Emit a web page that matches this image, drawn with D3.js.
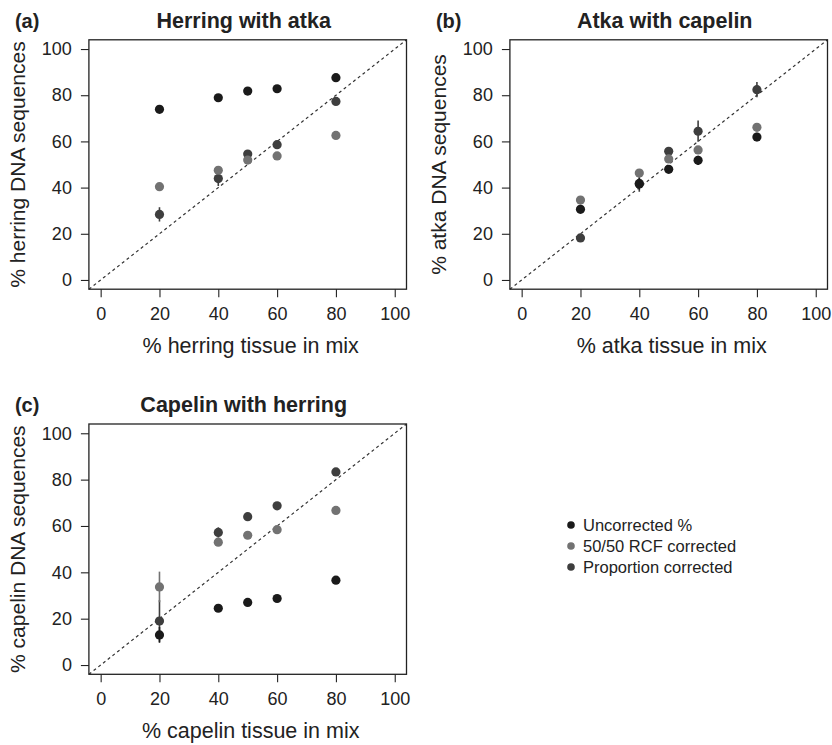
<!DOCTYPE html>
<html>
<head>
<meta charset="utf-8">
<script src="https://cdn.jsdelivr.net/npm/d3@7"></script>
<style>
  body { margin: 0; background: #fff; }
  svg { font-family: "Liberation Sans", Arial, Helvetica, sans-serif; }
</style>
</head>
<body>
<div id="chart"></div>
<script>
// mix levels (% tissue of the focal species)
var mixPercent = [20, 40, 50, 60, 80];
var tickValues = [0, 20, 40, 60, 80, 100];
var seriesNames = ["Uncorrected %", "50/50 RCF corrected", "Proportion corrected"];
var seriesColors = ["#1a1a1a", "#727272", "#3e3e3e"];

// (a) Herring with atka
var herringUncorrected = [73.9, 78.9, 81.8, 82.8, 87.6];
var herringRcf = [40.4, 47.5, 51.9, 53.7, 62.6];
var herringProportion = [28.4, 43.9, 54.5, 58.6, 77.3];
var herringUncorrectedErr = [0.6, 0.6, 0.6, 0.6, 0.6];
var herringRcfErr = [0.6, 0.8, 0.6, 0.6, 0.6];
var herringProportionErr = [3.1, 3.2, 1.0, 1.0, 1.0];

// (b) Atka with capelin
var atkaUncorrected = [30.6, 41.6, 47.9, 51.8, 61.9];
var atkaRcf = [34.6, 46.3, 52.4, 56.3, 66.1];
var atkaProportion = [18.2, 41.8, 55.7, 64.4, 82.4];
var atkaUncorrectedErr = [0.8, 2.5, 1.0, 2.0, 1.8];
var atkaRcfErr = [0.6, 1.2, 0.6, 1.5, 1.5];
var atkaProportionErr = [0.8, 3.6, 0.8, 4.6, 3.3];

// (c) Capelin with herring
var capelinUncorrected = [13.0, 24.5, 27.0, 28.7, 36.6];
var capelinRcf = [33.7, 53.0, 56.0, 58.4, 66.7];
var capelinProportion = [19.0, 57.2, 64.0, 68.7, 83.3];
var capelinUncorrectedErr = [3.4, 0.6, 0.6, 0.6, 0.6];
var capelinRcfErr = [6.6, 0.6, 0.6, 0.6, 0.6];
var capelinProportionErr = [9.0, 2.2, 0.6, 0.6, 0.6];

var panels = [
    {
        tag: "(a)", title: "Herring with atka",
        xlab: "% herring tissue in mix", ylab: "% herring DNA sequences",
        left: 88.9, right: 406.5, top: 39.8, bottom: 289.2,
        values: [herringUncorrected, herringRcf, herringProportion],
        errors: [herringUncorrectedErr, herringRcfErr, herringProportionErr]
    },
    {
        tag: "(b)", title: "Atka with capelin",
        xlab: "% atka tissue in mix", ylab: "% atka DNA sequences",
        left: 509.9, right: 827.5, top: 39.8, bottom: 289.2,
        values: [atkaUncorrected, atkaRcf, atkaProportion],
        errors: [atkaUncorrectedErr, atkaRcfErr, atkaProportionErr]
    },
    {
        tag: "(c)", title: "Capelin with herring",
        xlab: "% capelin tissue in mix", ylab: "% capelin DNA sequences",
        left: 88.9, right: 406.5, top: 424.0, bottom: 674.3,
        values: [capelinUncorrected, capelinRcf, capelinProportion],
        errors: [capelinUncorrectedErr, capelinRcfErr, capelinProportionErr]
    }
];

var full_width = 832, full_height = 745;
var domain = [-4, 104];

var svg = d3.select("#chart").append("svg")
    .attr("width", full_width)
    .attr("height", full_height);

panels.forEach(function(p) {
    var x = d3.scaleLinear().domain(domain).range([p.left, p.right]);
    var y = d3.scaleLinear().domain(domain).range([p.bottom, p.top]);
    var g = svg.append("g");

    // X axis
    var xAxis = g.append("g")
        .attr("transform", "translate(0," + p.bottom + ")")
        .call(d3.axisBottom(x).tickValues(tickValues).tickSize(8).tickSizeOuter(0).tickPadding(10));
    // Y axis
    var yAxis = g.append("g")
        .attr("transform", "translate(" + p.left + ",0)")
        .call(d3.axisLeft(y).tickValues(tickValues).tickSize(8).tickSizeOuter(0).tickPadding(9));

    [xAxis, yAxis].forEach(function(a) {
        a.select(".domain").remove();
        a.selectAll("line").attr("stroke", "#222").attr("stroke-width", 1.1);
        a.selectAll("text")
            .attr("fill", "#222")
            .style("font-size", "18px")
            .style("font-family", "'Liberation Sans', Arial, sans-serif");
    });

    // 1:1 line
    g.append("line")
        .attr("x1", x(domain[0])).attr("y1", y(domain[0]))
        .attr("x2", x(domain[1])).attr("y2", y(domain[1]))
        .attr("stroke", "#333")
        .attr("stroke-width", 1.2)
        .attr("stroke-dasharray", "3,3");

    // series, drawn proportion first so uncorrected ends on top
    d3.range(p.values.length).reverse().forEach(function(s) {
        var vals = p.values[s], errs = p.errors[s];
        g.selectAll(".err" + s)
            .data(mixPercent)
            .enter().append("line")
            .attr("x1", function(d) { return x(d); })
            .attr("x2", function(d) { return x(d); })
            .attr("y1", function(d, i) { return y(vals[i] - errs[i]); })
            .attr("y2", function(d, i) { return y(vals[i] + errs[i]); })
            .attr("stroke", seriesColors[s])
            .attr("stroke-width", 1.6);
        g.selectAll(".pt" + s)
            .data(mixPercent)
            .enter().append("circle")
            .attr("cx", function(d) { return x(d); })
            .attr("cy", function(d, i) { return y(vals[i]); })
            .attr("r", 4.6)
            .attr("fill", seriesColors[s]);
    });

    // box
    g.append("rect")
        .attr("x", p.left).attr("y", p.top)
        .attr("width", p.right - p.left)
        .attr("height", p.bottom - p.top)
        .attr("fill", "none")
        .attr("stroke", "#222")
        .attr("stroke-width", 1.3);

    // titles
    var cx = (x(0) + x(100)) / 2;
    g.append("text")
        .attr("x", cx - 4)
        .attr("y", p.top - 12)
        .attr("text-anchor", "middle")
        .style("font-size", "21.5px")
        .style("font-weight", "bold")
        .attr("fill", "#222")
        .text(p.title);

    g.append("text")
        .attr("x", p.left - 74)
        .attr("y", p.top - 12)
        .style("font-size", "20px")
        .style("font-weight", "bold")
        .attr("fill", "#222")
        .text(p.tag);

    g.append("text")
        .attr("x", cx + 3)
        .attr("y", p.bottom + 63.5)
        .attr("text-anchor", "middle")
        .style("font-size", "21.5px")
        .attr("fill", "#222")
        .text(p.xlab);

    g.append("text")
        .attr("transform", "translate(" + (p.left - 64.4) + "," + y(50) + ") rotate(-90)")
        .attr("text-anchor", "middle")
        .style("font-size", "21px")
        .attr("fill", "#222")
        .text(p.ylab);
});

// Legend
var legend = svg.append("g").attr("transform", "translate(571,525)");
seriesNames.forEach(function(name, i) {
    legend.append("circle")
        .attr("cx", 0)
        .attr("cy", i * 21)
        .attr("r", 3.8)
        .attr("fill", seriesColors[i]);
    legend.append("text")
        .attr("x", 12)
        .attr("y", i * 21 + 6)
        .style("font-size", "16.5px")
        .attr("fill", "#222")
        .text(name);
});
</script>
</body>
</html>
